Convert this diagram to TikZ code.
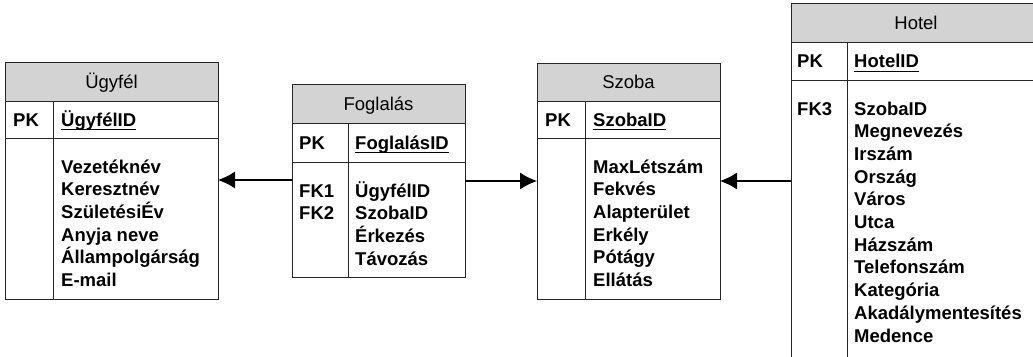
\documentclass[tikz,border=0pt]{standalone}
\usepackage{fontspec}
\setmainfont{Liberation Sans}
\usetikzlibrary{arrows.meta,
                positioning}
\definecolor{headgray}{RGB}{211,211,211}
\tikzset{entity-head/.style =
   {rectangle,
    draw=black!85,
    fill=headgray,
    line width=1pt,
    inner sep=0pt,
    outer sep=0pt,
    anchor=north west,
    text height=13pt,
    text depth=0pt,
    font=\fontsize{18.5pt}{22.7pt}\selectfont}}
\tikzset{entity-row/.style =
   {rectangle,
    draw=black!85,
    line width=1pt,
    inner sep=0pt,
    outer sep=0pt}}
\tikzset{entity-text/.style =
   {inner sep=0pt,
    align=left,
    anchor=base west,
    font=\fontsize{18.5pt}{22.7pt}\selectfont\bfseries}}
\tikzset{divider/.style = {draw=black!85, line width=1pt}}
\tikzset{pk-line/.style = {draw, line width=1.2pt}}
\tikzset{fk-arrow/.style = {draw, line width=1.2pt, -{Latex[length=17pt,width=17pt]}}}

\begin{document}
\begin{tikzpicture}[x=1pt, y=-1pt]

        \useasboundingbox (0,0) rectangle (1033,356);
        \clip (0,0) rectangle (1033,356);

        % Ugyfel  (base of a multi-line node = its last line)
        \node [entity-head, minimum width=213pt, minimum height=39pt] (ugyfel) at (5,62) {Ügyfél};
        \node [entity-row, minimum width=213pt, minimum height=37pt,
               below=0pt of ugyfel] (ugyfel-key) {};
        \node [entity-row, minimum width=213pt, minimum height=161pt,
               below=0pt of ugyfel-key] (ugyfel-body) {};
        \draw [divider] ([xshift=48pt]ugyfel-key.north west) -- ([xshift=48pt]ugyfel-body.south west);
        \node [entity-text] (ugyfel-pk) at ([xshift=8pt, yshift=-6.7pt]ugyfel-key.west) {PK};
        \node [entity-text] (ugyfel-id) at ([xshift=56pt, yshift=-6.7pt]ugyfel-key.west) {ÜgyfélID};
        \draw [pk-line] ([yshift=-3.5pt]ugyfel-id.base west) -- ([yshift=-3.5pt]ugyfel-id.base east);
        \node [entity-text] (ugyfel-fields) at ([xshift=56pt, yshift=-148.5pt]ugyfel-body.north west)
              {Vezetéknév\\Keresztnév\\SzületésiÉv\\Anyja neve\\Állampolgárság\\E-mail};

        % Foglalas
        \node [entity-head, minimum width=173pt, minimum height=39pt] (foglalas) at (292,84) {Foglalás};
        \node [entity-row, minimum width=173pt, minimum height=39pt,
               below=0pt of foglalas] (foglalas-key) {};
        \node [entity-row, minimum width=173pt, minimum height=115pt,
               below=0pt of foglalas-key] (foglalas-body) {};
        \draw [divider] ([xshift=56pt]foglalas-key.north west) -- ([xshift=56pt]foglalas-body.south west);
        \node [entity-text] (foglalas-pk) at ([xshift=7pt, yshift=-6.7pt]foglalas-key.west) {PK};
        \node [entity-text] (foglalas-id) at ([xshift=63pt, yshift=-6.7pt]foglalas-key.west) {FoglalásID};
        \draw [pk-line] ([yshift=-3.5pt]foglalas-id.base west) -- ([yshift=-3.5pt]foglalas-id.base east);
        \node [entity-text] (foglalas-fk) at ([xshift=7pt, yshift=-57.7pt]foglalas-body.north west)
              {FK1\\FK2};
        \node [entity-text] (foglalas-fields) at ([xshift=63pt, yshift=-103.1pt]foglalas-body.north west)
              {ÜgyfélID\\SzobaID\\Érkezés\\Távozás};

        % Szoba
        \node [entity-head, minimum width=183pt, minimum height=38pt] (szoba) at (537,63) {Szoba};
        \node [entity-row, minimum width=183pt, minimum height=37pt,
               below=0pt of szoba] (szoba-key) {};
        \node [entity-row, minimum width=183pt, minimum height=161pt,
               below=0pt of szoba-key] (szoba-body) {};
        \draw [divider] ([xshift=48pt]szoba-key.north west) -- ([xshift=48pt]szoba-body.south west);
        \node [entity-text] (szoba-pk) at ([xshift=8pt, yshift=-6.7pt]szoba-key.west) {PK};
        \node [entity-text] (szoba-id) at ([xshift=56pt, yshift=-6.7pt]szoba-key.west) {SzobaID};
        \draw [pk-line] ([yshift=-3.5pt]szoba-id.base west) -- ([yshift=-3.5pt]szoba-id.base east);
        \node [entity-text] (szoba-fields) at ([xshift=56pt, yshift=-148.5pt]szoba-body.north west)
              {MaxLétszám\\Fekvés\\Alapterület\\Erkély\\Pótágy\\Ellátás};

        % Hotel
        \node [entity-head, minimum width=250pt, minimum height=39pt] (hotel) at (791,3) {Hotel};
        \node [entity-row, minimum width=250pt, minimum height=38pt,
               below=0pt of hotel] (hotel-key) {};
        \node [entity-row, minimum width=250pt, minimum height=300pt,
               below=0pt of hotel-key] (hotel-body) {};
        \draw [divider] ([xshift=56pt]hotel-key.north west) -- ([xshift=56pt]hotel-body.south west);
        \node [entity-text] (hotel-pk) at ([xshift=6pt, yshift=-6.7pt]hotel-key.west) {PK};
        \node [entity-text] (hotel-id) at ([xshift=63pt, yshift=-6.7pt]hotel-key.west) {HotelID};
        \draw [pk-line] ([yshift=-3.5pt]hotel-id.base west) -- ([yshift=-3.5pt]hotel-id.base east);
        \node [entity-text] (hotel-fk) at ([xshift=6pt, yshift=-35pt]hotel-body.north west)
              {FK3};
        \node [entity-text] (hotel-fields) at ([xshift=63pt, yshift=-262pt]hotel-body.north west)
              {SzobaID\\Megnevezés\\Irszám\\Ország\\Város\\Utca\\Házszám\\Telefonszám\\Kategória\\Akadálymentesítés\\Medence};

        % kapcsolatok
        \coordinate (fk1-out) at ([yshift=-18pt]foglalas-body.north west);
        \coordinate (fk2-out) at ([yshift=-19pt]foglalas-body.north east);
        \coordinate (fk3-out) at ([yshift=-101pt]hotel-body.north west);
        \draw [fk-arrow] (fk1-out) -- (fk1-out -| ugyfel-body.east);
        \draw [fk-arrow] (fk2-out) -- (fk2-out -| szoba-body.west);
        \draw [fk-arrow] (fk3-out) -- (fk3-out -| szoba-body.east);

\end{tikzpicture}
\end{document}
